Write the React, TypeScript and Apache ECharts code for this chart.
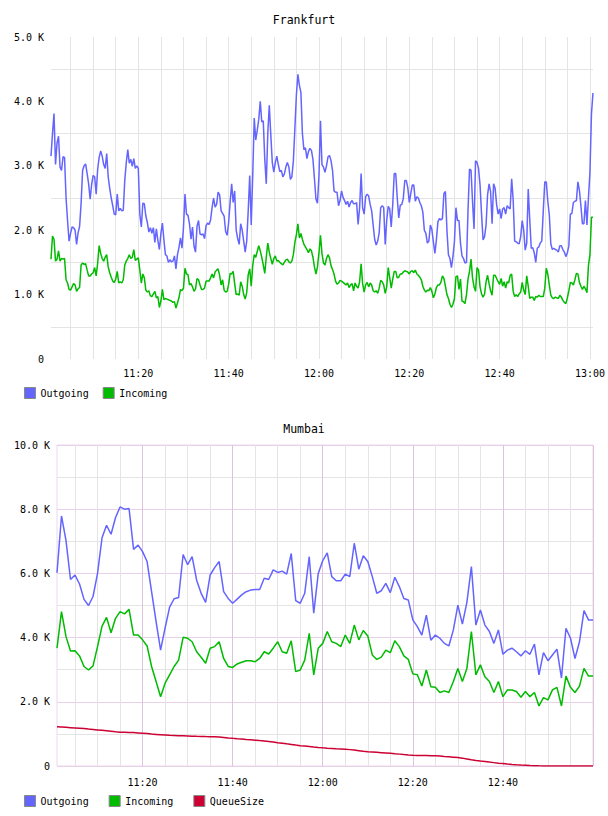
import React, { useEffect, useRef } from "react";
import * as echarts from "echarts";

// Frankfurt: 20-second samples starting 11:00:40
const FRA_START = 11 * 3600 + 40;
const FRA_STEP = 20;
const fraOutgoing = [
  3150, 3500, 3810, 3020, 3350, 3460, 2980, 2930, 3140, 3130,
  2500, 2150, 1830, 1950, 2050, 2040, 2000, 1780, 1960, 2060,
  2420, 2930, 3000, 3030, 2880, 2720, 2480, 2710, 2850, 2830,
  2560, 2950, 3130, 3230, 3150, 3020, 2960, 3190, 2830, 2650,
  2500, 2380, 2250, 2240, 2560, 2300, 2340, 2300, 2310, 2770,
  3050, 3250, 3040, 3100, 2990, 3110, 2960, 3000, 2960, 2250,
  2050, 2420, 2410, 2220, 2120, 1970, 2040, 1950, 2040, 1810,
  2020, 1840, 1700, 1950, 2110, 1850, 1620, 1600, 1500, 1540,
  1510, 1520, 1600, 1400, 1620, 1730, 1880, 1720, 2040, 2560,
  2250, 2230, 2100, 1860, 2050, 1750, 1660, 2060, 2150, 1940,
  1930, 1940, 1870, 2070, 2110, 2090, 2160, 2350, 2500, 2360,
  2400, 2590, 2550, 2300, 2260, 2220, 1980, 1920, 2120, 2440,
  2720, 2430, 2610, 2000, 1870, 1780, 2100, 2000, 1830, 1660,
  1830, 2300, 2850, 2080, 2850, 3740, 3400, 3550, 3720, 4000,
  3680, 3700, 3100, 2720, 3500, 3940, 3480, 3050, 2900, 3050,
  3150, 3020, 2910, 2930, 2830, 2870, 2980, 3050, 2980, 2790,
  2830, 3080, 3580, 4100, 4420, 4250, 4140, 3500, 3250, 3280,
  3110, 3220, 3270, 3240, 3100, 2800, 2480, 2420, 2850, 3700,
  3020, 2980, 2900, 3000, 3140, 3160, 3080, 2930, 2610, 2590,
  2590, 2380, 2460, 2610, 2510, 2460, 2400, 2450, 2360, 2430,
  2460, 2410, 2410, 2430, 2090, 2350, 2880, 2350, 2250, 2520,
  2560, 2530, 2400, 2300, 2080, 1860, 1770, 1830, 1960, 2350,
  2380, 2350, 1780, 2150, 2370, 2330, 2050, 2400, 2880, 2880,
  2500, 2190, 2390, 2400, 2490, 2770, 2770, 2660, 2430, 2570,
  2700, 2700, 2450, 2520, 2500, 2430, 2380, 2280, 2000, 1950,
  1800, 1830, 2080, 2010, 1820, 1640, 1850, 2130, 2180, 2160,
  2180, 2570, 2600, 2000, 1620, 1560, 1420, 1590, 1830, 2350,
  2150, 2150, 1800, 1600, 1560, 1490, 1500, 2300, 2950, 2930,
  2450, 2020, 3080, 3050, 2960, 2700, 2250, 1850, 1900, 2080,
  2550, 2720, 2600, 2100, 2720, 2650, 2400, 2250, 2330, 2180,
  2330, 2350, 2250, 2380, 2350, 2330, 2800, 2470, 1830, 1820,
  1800, 1790, 1900, 2150, 2000, 1690, 1800, 2640, 2170, 1720,
  1730, 1650, 1500, 1720, 1740, 1800, 1830, 2300, 2750, 2750,
  2450, 2240, 1790, 1700, 1720, 1700, 1690, 1660, 1760, 1760,
  1700, 1660, 1590, 1650, 1760, 2250, 2260, 2430, 2450, 2460,
  2750, 2620, 2380, 2100, 2100, 2460, 2080, 2500, 2900, 3800,
  4130,
];
const fraIncoming = [
  1550, 1910, 1860, 1520, 1550, 1680, 1520, 1560, 1550, 1560,
  1230, 1180, 1080, 1070, 1120, 1170, 1150, 1050, 1090, 1110,
  1460, 1490, 1470, 1480, 1380, 1290, 1290, 1320, 1340, 1420,
  1290, 1490, 1760, 1640, 1560, 1520, 1580, 1620, 1430, 1340,
  1270, 1210, 1190, 1240, 1360, 1180, 1200, 1180, 1230, 1460,
  1520, 1560, 1620, 1560, 1580, 1700, 1530, 1550, 1570, 1380,
  1180, 1320, 1260, 1070, 1040, 1060, 980, 970, 1010, 1050,
  950, 970, 800, 900, 1080, 920, 940, 930, 920, 910,
  900, 880, 890, 790, 870, 950, 1080, 1060, 1100, 1410,
  1320, 1310, 1150, 1170, 1120, 1050, 1090, 1250, 1230, 1150,
  1080, 1080, 1100, 1210, 1210, 1210, 1260, 1320, 1260, 1350,
  1380, 1400, 1300, 1150, 1230, 1070, 1040, 1050, 1160, 1330,
  1320, 1360, 1170, 1000, 1010, 990, 1200, 1130, 1000, 930,
  1030, 1310, 1400, 1130, 1450, 1620, 1580, 1670, 1760, 1680,
  1580, 1460, 1330, 1580, 1800, 1660, 1560, 1470, 1560, 1600,
  1520, 1530, 1500, 1480, 1460, 1500, 1540, 1550, 1510, 1490,
  1520, 1620, 1810, 1930, 2100, 1880, 1950, 1860, 1780, 1740,
  1700, 1650, 1710, 1680, 1580, 1430, 1320, 1430, 1650, 1920,
  1640, 1490, 1460, 1560, 1620, 1570, 1450, 1390, 1320, 1210,
  1160, 1180, 1220, 1210, 1190, 1170, 1150, 1180, 1110, 1150,
  1170, 1060, 1180, 1130, 1100, 1200, 1480, 1170, 1040, 1150,
  1190, 1120, 1180, 1150, 1060, 1040, 1060, 1020, 1100, 1220,
  1200, 1150, 1020, 1120, 1420, 1260, 1100, 1240, 1360, 1360,
  1260, 1270, 1320, 1320, 1350, 1370, 1360, 1350, 1320, 1360,
  1370, 1340, 1380, 1320, 1300, 1270, 1230, 1130, 1070, 1040,
  1070, 1060, 1110, 1050, 950, 1010, 1110, 1150, 1150, 1190,
  1290, 1250, 1130, 1000, 940, 850, 800, 850, 940, 1280,
  1290, 1080, 1240, 900, 890, 860, 1000, 1240, 1360, 1550,
  1260, 1120, 1050, 1420, 1380, 1120, 1010, 960, 1010, 1200,
  1300, 1170, 1060, 990, 1300, 1300, 1250, 1200, 1160, 1250,
  1130, 1200, 1100, 1200, 1180, 1300, 1320, 1050, 970, 1000,
  970, 1010, 1040, 1190, 1070, 1000, 1290, 1130, 940, 960,
  960, 910, 970, 960, 990, 970, 970, 970, 1100, 1410,
  1320, 1150, 990, 950, 940, 960, 950, 940, 990, 960,
  910, 880, 860, 950, 1060, 1190, 1180, 1150, 1230, 1330,
  1320, 1190, 1130, 1080, 1130, 1090, 1030, 1450, 1620, 2200,
  2200,
];

// Mumbai: 1-minute samples starting 11:01
const MUM_START = 11 * 3600 + 60;
const MUM_STEP = 60;
const mumOutgoing = [
  6020, 7790, 7020, 5810, 5950, 5670, 5190, 5000, 5280, 6000,
  7110, 7500, 7220, 7740, 8070, 8000, 8020, 6750, 6880, 6680,
  6370, 5430, 4500, 3610, 4300, 4950, 5210, 5250, 6590, 6270,
  6520, 5790, 5380, 5100, 5950, 6180, 6370, 5430, 5220, 5070,
  5200, 5330, 5430, 5480, 5500, 5500, 5850, 5810, 6110, 6030,
  6070, 5980, 6620, 5150, 5070, 5380, 6520, 4760, 6000, 6400,
  6640, 5900, 5770, 5770, 5980, 5900, 6940, 6130, 6550, 6370,
  5900, 5380, 5460, 5690, 5400, 5880, 5590, 5220, 5170, 4550,
  4340, 4080, 4700, 3920, 4080, 3980, 3820, 3740, 4240, 5010,
  4420, 5100, 6210, 4390, 4860, 4390, 4190, 3820, 4240, 3480,
  3610, 3670, 3560, 3430, 3590, 3480, 3800, 2840, 3530, 3280,
  3460, 3640, 2740, 4290, 3980, 3350, 3870, 4840, 4550, 4550,
];
const mumIncoming = [
  3670, 4810, 4030, 3580, 3590, 3430, 3100, 2990, 3120, 3720,
  4360, 4630, 4150, 4600, 4810, 4740, 4880, 4080, 4080, 3930,
  3740, 3100, 2630, 2160, 2580, 2840, 3100, 3300, 4010, 3980,
  3870, 3560, 3390, 3200, 3670, 3720, 3870, 3350, 3100, 3070,
  3180, 3230, 3280, 3280, 3250, 3350, 3560, 3490, 3670, 3870,
  3560, 3510, 3900, 2940, 2990, 3300, 4130, 2840, 3670, 3820,
  4190, 3870, 3820, 3720, 4080, 3820, 4390, 3930, 4220, 4050,
  3460, 3320, 3390, 3610, 3530, 3900, 3720, 3430, 3320, 2870,
  2840, 2490, 2990, 2470, 2450, 2290, 2340, 2290, 2630, 3040,
  2630, 3040, 4190, 2840, 3150, 2780, 2630, 2290, 2630, 2160,
  2370, 2370, 2320, 2140, 2320, 2160, 2290, 1870, 2130, 2060,
  2370, 2450, 1870, 2800, 2450, 2290, 2490, 3040, 2800, 2800,
];
const mumQueueSize = [
  1225, 1215, 1205, 1195, 1185, 1175, 1165, 1150, 1140, 1125,
  1110, 1095, 1080, 1065, 1055, 1050, 1045, 1040, 1030, 1020,
  1010, 995, 985, 975, 965, 955, 950, 945, 940, 935,
  930, 925, 922, 918, 915, 910, 900, 890, 875, 862,
  850, 840, 828, 817, 805, 792, 780, 765, 750, 727,
  710, 690, 672, 652, 634, 620, 605, 590, 577, 565,
  555, 548, 540, 533, 525, 510, 495, 478, 460, 445,
  435, 425, 415, 405, 395, 382, 370, 355, 342, 333,
  330, 328, 325, 322, 320, 308, 295, 285, 275, 265,
  245, 220, 195, 175, 156, 140, 122, 105, 88, 75,
  62, 50, 40, 33, 27, 18, 10, 4, 0, 0,
  0, 0, 0, 0, 0, 0, 0, 0, 0, 0,
];

const FONT = "DejaVu Sans Mono, monospace";
const BLUE = "#6464ff";
const GREEN = "#00bb00";
const RED = "#cc0033";
const GRID_GREY = "#e4e4e4";
const MUM_MAJOR = "#dcc4de";
const MUM_HLINE = "#e8d0e8";

const pad = (n: number) => String(n).padStart(2, "0");
const clock = (sec: number) =>
  `${pad(Math.floor(sec / 3600))}:${pad(Math.floor((sec % 3600) / 60))}:${pad(sec % 60)}`;
const secOf = (t: string) => {
  const [h, m, s] = t.split(":").map(Number);
  return h * 3600 + m * 60 + s;
};

const fraTimes = fraOutgoing.map((_, i) => clock(FRA_START + i * FRA_STEP));
const mumTimes = mumOutgoing.map((_, i) => clock(MUM_START + i * MUM_STEP));

const kFormat = (v: number) => (v === 0 ? "0" : (v / 1000).toFixed(1) + " K");
const hhmm = (t: string) => t.slice(0, 5);

const labelText = { fontFamily: FONT, fontSize: 10, color: "#000" };

const lineSeries = (
  name: string,
  data: number[],
  color: string,
  axis: number
) => ({
  name,
  type: "line",
  xAxisIndex: axis,
  yAxisIndex: axis,
  data,
  showSymbol: false,
  symbol: "none",
  lineStyle: { color, width: 1.5 },
  itemStyle: { color },
});

export default function App() {
  const ref = useRef<HTMLDivElement>(null);

  useEffect(() => {
    if (!ref.current) return;
    const chart = echarts.init(ref.current, undefined, { renderer: "svg" });

    const mumLast = mumTimes.length - 1;
    const titleStyle = { fontFamily: FONT, fontSize: 11.5, fontWeight: "normal", color: "#000" };

    chart.setOption({
      animation: false,
      backgroundColor: "#fff",
      title: [
        { text: "Frankfurt", left: "center", top: 14, padding: 0, textStyle: titleStyle },
        { text: "Mumbai", left: "center", top: 423, padding: 0, textStyle: titleStyle },
      ],
      legend: [
        {
          left: 24,
          top: 387,
          padding: 0,
          icon: "rect",
          itemWidth: 11,
          itemHeight: 11,
          itemGap: 14,
          data: ["Outgoing", "Incoming"],
          textStyle: labelText,
          itemStyle: { borderColor: "#888", borderWidth: 1 },
          selectedMode: false,
        },
        {
          left: 24,
          top: 795,
          padding: 0,
          icon: "rect",
          itemWidth: 11,
          itemHeight: 11,
          itemGap: 20,
          data: ["Outgoing", "Incoming", "QueueSize"],
          textStyle: labelText,
          itemStyle: { borderColor: "#888", borderWidth: 1 },
          selectedMode: false,
        },
      ],
      grid: [
        { left: 51, top: 37, width: 542, height: 322 },
        {
          left: 57,
          top: 445,
          width: 536,
          height: 321,
          show: true,
          borderColor: "#ead8ee",
          borderWidth: 1,
        },
      ],
      xAxis: [
        {
          gridIndex: 0,
          type: "category",
          boundaryGap: false,
          data: fraTimes,
          axisLine: { show: false },
          axisTick: { show: false },
          axisLabel: {
            ...labelText,
            margin: 9,
            interval: (_i: number, v: string) => secOf(v) % 1200 === 0,
            formatter: (v: string) => hhmm(v),
          },
          splitLine: {
            show: true,
            interval: (_i: number, v: string) => secOf(v) % 300 === 0,
            lineStyle: { color: GRID_GREY, width: 1 },
          },
        },
        {
          gridIndex: 1,
          type: "category",
          boundaryGap: false,
          data: mumTimes,
          axisLine: { show: false },
          axisTick: { show: false },
          axisLabel: {
            ...labelText,
            margin: 11,
            interval: (i: number, v: string) => secOf(v) % 1200 === 0 && i !== mumLast,
            formatter: (v: string) => hhmm(v),
          },
          splitLine: {
            show: true,
            interval: (_i: number, v: string) => secOf(v) % 300 === 0,
            lineStyle: { color: [GRID_GREY, GRID_GREY, GRID_GREY, MUM_MAJOR], width: 1 },
          },
        },
      ],
      yAxis: [
        {
          gridIndex: 0,
          type: "value",
          min: 0,
          max: 5000,
          interval: 1000,
          axisLine: { show: false },
          axisTick: { show: false },
          splitLine: { show: false },
          minorTick: { show: false, splitNumber: 2 },
          minorSplitLine: { show: true, lineStyle: { color: GRID_GREY, width: 1 } },
          axisLabel: { ...labelText, margin: 7, formatter: kFormat },
        },
        {
          gridIndex: 1,
          type: "value",
          min: 0,
          max: 10000,
          interval: 2000,
          axisLine: { show: false },
          axisTick: { show: false },
          splitLine: { show: true, lineStyle: { color: MUM_HLINE, width: 1 } },
          minorTick: { show: false, splitNumber: 2 },
          minorSplitLine: { show: true, lineStyle: { color: GRID_GREY, width: 1 } },
          axisLabel: { ...labelText, margin: 7, formatter: kFormat },
        },
      ],
      series: [
        lineSeries("Outgoing", fraOutgoing, BLUE, 0),
        lineSeries("Incoming", fraIncoming, GREEN, 0),
        lineSeries("QueueSize", mumQueueSize, RED, 1),
        lineSeries("Outgoing", mumOutgoing, BLUE, 1),
        lineSeries("Incoming", mumIncoming, GREEN, 1),
      ],
    });

    return () => chart.dispose();
  }, []);

  return (
    <div
      ref={ref}
      style={{ position: "absolute", left: 0, top: 0, width: 608, height: 816 }}
    />
  );
}
